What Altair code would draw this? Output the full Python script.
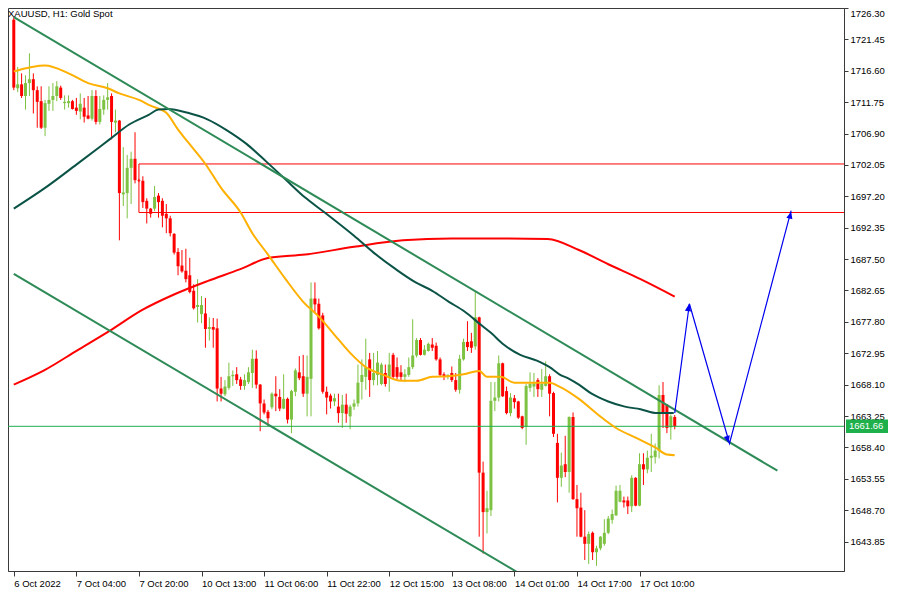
import altair as alt
import pandas as pd

# ---------------- data ----------------
opens = [1724.5, 1713.9, 1714.5, 1712.7, 1714.7, 1715.3, 1713.6, 1711.9, 1707.8, 1711.5,
         1712.1, 1712.7, 1714.0, 1711.6, 1711.6, 1711.9, 1710.9, 1710.3, 1710.9, 1709.7,
         1709.2, 1712.7, 1708.7, 1710.6, 1712.1, 1712.7, 1708.6, 1708.9, 1697.5, 1697.7,
         1701.6, 1703.0, 1699.7, 1699.6, 1696.5, 1695.3, 1695.3, 1697.3, 1696.5, 1694.5,
         1693.8, 1691.4, 1688.6, 1686.5, 1685.7, 1685.0, 1682.6, 1680.1, 1679.0, 1679.1,
         1676.7, 1677.0, 1676.8, 1667.5, 1666.6, 1667.6, 1669.4, 1669.7, 1668.9, 1667.9,
         1668.5, 1669.9, 1672.1, 1668.1, 1665.2, 1663.9, 1664.6, 1666.7, 1666.2, 1664.4,
         1665.9, 1662.7, 1667.0, 1670.0, 1669.4, 1666.7, 1669.0, 1681.4, 1680.6, 1678.8,
         1667.0, 1666.4, 1665.5, 1664.7, 1663.7, 1665.0, 1663.2, 1664.7, 1665.2, 1668.5,
         1669.3, 1672.0, 1668.8, 1669.6, 1668.2, 1669.9, 1669.3, 1672.7, 1670.8, 1670.0,
         1669.3, 1669.6, 1670.8, 1672.6, 1675.0, 1672.7, 1673.3, 1674.3, 1674.1, 1672.0,
         1669.7, 1669.3, 1669.9, 1668.8, 1667.3, 1672.0, 1674.7, 1674.8, 1674.0, 1678.5,
         1654.5, 1648.4, 1648.7, 1665.6, 1666.1, 1671.4, 1667.1, 1663.7, 1666.0, 1665.5,
         1663.2, 1661.6, 1667.6, 1667.8, 1668.8, 1667.3, 1667.9, 1669.4, 1666.8, 1659.1,
         1653.7, 1655.8, 1654.6, 1663.1, 1650.4, 1649.1, 1644.6, 1643.5, 1645.2, 1642.2,
         1642.8, 1643.5, 1645.2, 1647.2, 1647.9, 1650.0, 1650.2, 1650.2, 1649.3, 1653.7,
         1649.4, 1655.8, 1655.0, 1656.8, 1656.9, 1657.9, 1666.5, 1665.0, 1661.5, 1663.1]
highs = [1724.9, 1717.2, 1716.2, 1715.9, 1719.3, 1716.2, 1714.2, 1714.2, 1712.1, 1714.2,
         1714.7, 1715.0, 1714.3, 1712.8, 1712.8, 1712.1, 1712.4, 1713.1, 1712.4, 1712.7,
         1713.6, 1713.6, 1712.7, 1712.8, 1714.7, 1713.1, 1710.6, 1709.0, 1704.8, 1703.6,
         1704.1, 1707.1, 1699.9, 1700.3, 1696.9, 1695.4, 1698.8, 1697.7, 1696.9, 1696.0,
         1694.2, 1691.5, 1689.2, 1688.9, 1689.1, 1687.7, 1683.6, 1684.4, 1681.8, 1681.5,
         1678.5, 1678.4, 1678.3, 1669.3, 1668.8, 1671.5, 1670.3, 1670.8, 1669.3, 1669.7,
         1670.8, 1673.5, 1673.4, 1668.2, 1665.8, 1664.2, 1666.9, 1669.4, 1667.4, 1669.7,
         1666.1, 1667.3, 1670.6, 1672.5, 1672.7, 1672.6, 1683.9, 1683.9, 1681.4, 1679.2,
         1667.8, 1666.7, 1666.7, 1666.7, 1666.5, 1666.7, 1665.0, 1665.8, 1671.2, 1672.0,
         1675.2, 1673.0, 1673.0, 1673.3, 1671.5, 1671.2, 1673.0, 1673.0, 1672.3, 1671.1,
         1670.5, 1672.3, 1678.2, 1675.3, 1675.3, 1674.2, 1674.6, 1675.3, 1674.6, 1672.3,
         1670.0, 1669.7, 1670.9, 1669.9, 1672.7, 1675.2, 1677.9, 1676.1, 1682.4, 1678.6,
         1656.2, 1651.7, 1668.5, 1668.5, 1672.6, 1671.5, 1667.8, 1666.8, 1666.5, 1665.6,
         1663.3, 1668.2, 1670.0, 1669.9, 1669.1, 1670.5, 1671.7, 1669.7, 1667.0, 1660.5,
         1657.6, 1660.2, 1663.2, 1663.8, 1652.6, 1651.4, 1648.7, 1645.4, 1645.4, 1643.2,
         1644.7, 1647.3, 1647.8, 1648.8, 1652.5, 1652.6, 1650.8, 1650.8, 1654.1, 1653.8,
         1657.5, 1657.5, 1657.9, 1660.5, 1659.0, 1668.0, 1668.5, 1665.1, 1663.5, 1663.4]
lows = [1713.6, 1713.3, 1712.4, 1710.6, 1712.7, 1710.0, 1707.8, 1707.6, 1706.5, 1710.4,
        1710.4, 1711.9, 1712.1, 1710.6, 1710.9, 1710.6, 1709.8, 1709.1, 1708.6, 1709.1,
        1708.9, 1708.3, 1708.3, 1709.8, 1710.6, 1706.0, 1707.1, 1690.4, 1695.7, 1693.8,
        1696.0, 1699.2, 1699.4, 1695.4, 1693.0, 1693.9, 1694.9, 1693.9, 1692.4, 1691.5,
        1691.0, 1688.2, 1685.0, 1685.4, 1683.9, 1682.2, 1679.7, 1677.7, 1677.6, 1673.8,
        1674.9, 1673.8, 1665.5, 1665.5, 1666.3, 1667.3, 1667.9, 1668.2, 1667.3, 1667.3,
        1668.2, 1667.6, 1667.5, 1660.9, 1663.5, 1661.7, 1664.3, 1664.0, 1664.0, 1664.3,
        1662.1, 1660.6, 1666.3, 1668.8, 1666.2, 1663.2, 1663.2, 1679.1, 1676.6, 1666.7,
        1663.5, 1664.4, 1664.8, 1662.2, 1661.4, 1662.2, 1661.2, 1664.2, 1664.7, 1665.8,
        1667.3, 1666.2, 1668.0, 1668.0, 1668.0, 1667.8, 1667.0, 1668.9, 1668.9, 1668.8,
        1668.5, 1669.3, 1670.5, 1672.3, 1672.6, 1672.6, 1673.2, 1673.3, 1671.8, 1669.4,
        1668.8, 1668.9, 1668.5, 1667.0, 1666.7, 1671.8, 1673.3, 1673.0, 1673.5, 1644.6,
        1642.0, 1645.1, 1647.8, 1664.0, 1665.5, 1666.2, 1663.5, 1663.2, 1664.4, 1662.8,
        1661.2, 1658.8, 1667.0, 1666.2, 1666.2, 1666.2, 1667.8, 1663.2, 1660.0, 1649.9,
        1652.3, 1653.8, 1651.4, 1650.3, 1644.6, 1644.5, 1641.0, 1640.4, 1641.0, 1640.1,
        1642.5, 1643.2, 1645.0, 1646.6, 1647.8, 1649.9, 1649.1, 1648.1, 1648.4, 1649.3,
        1649.3, 1652.6, 1654.4, 1654.6, 1655.9, 1656.7, 1661.4, 1660.6, 1659.6, 1661.2]
closes = [1714.0, 1714.5, 1712.7, 1714.7, 1715.3, 1713.6, 1711.8, 1707.8, 1711.6, 1712.1,
          1712.7, 1714.2, 1712.4, 1711.8, 1711.9, 1710.7, 1710.4, 1711.5, 1709.5, 1709.2,
          1712.7, 1708.7, 1710.7, 1712.1, 1712.5, 1708.7, 1708.9, 1697.7, 1697.8, 1701.6,
          1703.0, 1699.7, 1699.6, 1696.3, 1695.3, 1694.5, 1697.1, 1696.3, 1694.2, 1693.8,
          1691.5, 1688.5, 1686.4, 1685.6, 1684.4, 1682.4, 1679.9, 1680.4, 1680.4, 1676.7,
          1677.0, 1676.6, 1667.5, 1666.7, 1667.8, 1669.4, 1669.6, 1668.8, 1667.9, 1668.8,
          1670.0, 1672.1, 1668.1, 1665.2, 1663.8, 1662.9, 1666.7, 1666.3, 1664.4, 1665.9,
          1662.7, 1667.1, 1670.3, 1669.1, 1666.7, 1669.3, 1681.4, 1680.5, 1676.8, 1667.0,
          1666.1, 1665.5, 1666.0, 1663.7, 1665.0, 1663.6, 1664.7, 1665.2, 1668.4, 1669.6,
          1670.8, 1668.8, 1669.9, 1671.5, 1671.2, 1668.2, 1671.2, 1669.3, 1669.3, 1669.3,
          1669.7, 1670.8, 1672.6, 1675.0, 1672.7, 1673.5, 1674.4, 1673.8, 1672.0, 1669.6,
          1669.3, 1669.6, 1668.8, 1667.3, 1672.1, 1674.7, 1673.9, 1673.8, 1678.5, 1654.5,
          1648.4, 1649.0, 1665.6, 1666.1, 1671.4, 1666.3, 1663.7, 1666.1, 1665.4, 1663.0,
          1661.4, 1667.9, 1668.2, 1668.3, 1667.4, 1668.2, 1669.4, 1666.7, 1660.5, 1653.7,
          1655.6, 1654.6, 1663.1, 1650.4, 1649.0, 1644.6, 1643.5, 1645.0, 1642.2, 1642.8,
          1644.6, 1645.2, 1647.4, 1648.1, 1651.7, 1651.7, 1649.9, 1649.3, 1653.7, 1649.4,
          1655.8, 1655.0, 1656.8, 1657.1, 1657.9, 1666.5, 1663.7, 1661.4, 1663.2, 1661.66]

# moving averages (bar index, price)
ma_fast_idx = [0, 8, 14, 19, 24, 27, 32, 35, 39, 42, 44.5, 49, 53, 58, 61, 65, 69.5, 74, 78, 82,
               86, 90, 94.5, 99, 103, 107, 111, 115, 119, 121, 124.5, 128, 137, 139.5, 144.5,
               149.5, 154, 159, 164, 167, 169]
ma_fast_val = [1716.5, 1717.4, 1716.2, 1714.7, 1713.9, 1713.1, 1712.1, 1711.2, 1710.1, 1707.5,
               1705.6, 1702.2, 1698.5, 1694.7, 1691.5, 1688.2, 1684.4, 1680.9, 1678.6, 1675.8,
               1673.0, 1670.8, 1669.6, 1668.7, 1668.7, 1669.3, 1669.4, 1669.7, 1670.2, 1669.3,
               1669.3, 1668.4, 1668.4, 1667.8, 1665.9, 1663.4, 1661.4, 1659.9, 1658.4, 1657.3,
               1657.2]
ma_mid_idx = [0, 8, 16, 24.5, 29.5, 34.5, 37, 39.5, 44.5, 49.5, 54.5, 59.5, 64.5, 69.5, 74.5,
              79.5, 87, 92, 97.75, 102.75, 107, 111.25, 115.25, 119.5, 122, 125.25, 129.5,
              133.75, 137, 139.5, 142, 144.5, 147.75, 152, 156.25, 160.25, 164.5, 168.75]
ma_mid_val = [1695.3, 1698.5, 1702.1, 1706.0, 1708.3, 1709.8, 1710.6, 1710.7, 1710.1, 1709.1,
              1707.4, 1705.3, 1702.6, 1699.8, 1697.0, 1694.7, 1691.1, 1688.5, 1685.9, 1683.9,
              1682.6, 1680.9, 1679.4, 1677.3, 1676.1, 1674.3, 1672.7, 1671.8, 1670.8, 1669.7,
              1669.0, 1668.1, 1666.7, 1665.5, 1664.7, 1664.3, 1663.7, 1663.7]
ma_slow_idx = [0, 7.75, 16.25, 24.5, 32.75, 41.25, 49.5, 57.75, 65.25, 74.5, 87, 99.5, 112,
               124.5, 136.5, 144.5, 152, 160.25, 169]
ma_slow_val = [1668.1, 1670.3, 1673.4, 1676.4, 1679.6, 1682.1, 1684.1, 1685.9, 1687.7, 1688.2,
               1689.4, 1690.4, 1690.7, 1690.7, 1690.6, 1688.9, 1686.7, 1684.4, 1681.7]

# descending channel
upper_idx = [0, 195.25]
upper_val = [1724.9, 1654.8]
lower_idx = [0, 128.5]
lower_val = [1685.2, 1639.2]

# resistance zone
zone_start = 32
zone_top = 1702.2
zone_bottom = 1694.7

last_price = 1661.66

# projected path (blue arrows)
path_idx = [169, 172.75, 183, 198.75]
path_val = [1663.7, 1680.6, 1659.0, 1695.0]
head_idx = [172.5, 182.5, 198.5]
head_val = [1679.9, 1659.7, 1694.2]
head_angle = [8, 164, 15]

price_ticks = [1643.85, 1648.70, 1653.55, 1658.40, 1663.25, 1668.10, 1672.95, 1677.80,
               1682.65, 1687.50, 1692.35, 1697.20, 1702.05, 1706.90, 1711.75, 1716.60,
               1721.45, 1726.30]
time_idx = [0, 16, 32, 48, 64, 80, 96, 112, 128, 144, 160]
time_labels = ["6 Oct 2022", "7 Oct 04:00", "7 Oct 20:00", "10 Oct 13:00", "11 Oct 06:00",
               "11 Oct 22:00", "12 Oct 15:00", "13 Oct 08:00", "14 Oct 01:00",
               "14 Oct 17:00", "17 Oct 10:00"]
title_text = "XAUUSD, H1:  Gold Spot"

# ---------------- styling ----------------
W, H = 836, 563
FONT = "Liberation Sans"
FS = 9.5
C_UP, C_DN = "#7DC242", "#FF0000"
C_FAST, C_MID, C_SLOW = "#FFB000", "#0B5346", "#FF0000"
C_CHAN, C_LAST, C_BLUE = "#2E8B57", "#1DB04B", "#0000F0"
C_AX = "#3a3a3a"
X_DOMAIN = [-0.2, 211]
Y_DOMAIN = [1639.3, 1726.30]

xs = alt.Scale(domain=X_DOMAIN, nice=False, zero=False)
ys = alt.Scale(domain=Y_DOMAIN, nice=False, zero=False)

candles = pd.DataFrame({"i": list(range(len(opens))), "o": opens, "h": highs,
                        "l": lows, "c": closes})
candles["d"] = ["up" if c >= o else "down" for o, c in zip(opens, closes)]

label_arr = "[" + ",".join("'" + s + "'" for s in time_labels) + "]"

X_AX = alt.Axis(values=time_idx, labelExpr=f"{label_arr}[round(datum.value/16)]",
                labelAlign="left", labelBaseline="top", labelPadding=2, tickSize=5,
                grid=False, title=None, labelFont=FONT, labelFontSize=FS, labelColor="#000",
                domainColor=C_AX, tickColor=C_AX, labelFlush=False, labelOverlap=False,
                labelBound=False)
Y_AX = alt.Axis(orient="right", values=price_ticks, format=".2f", tickSize=4, labelPadding=2,
                grid=False, title=None, labelFont=FONT, labelFontSize=FS, labelColor="#000",
                domainColor=C_AX, tickColor=C_AX, labelFlush=True, labelOverlap=False)


def X(f):
    return alt.X(f, scale=xs, axis=X_AX)


def Y(f):
    return alt.Y(f, scale=ys, axis=Y_AX)


color = alt.Color("d:N", scale=alt.Scale(domain=["up", "down"], range=[C_UP, C_DN]),
                  legend=None)

wicks = alt.Chart(candles).mark_rule(strokeWidth=1).encode(
    x=X("i:Q"), y=Y("l:Q"), y2="h:Q", color=color)
bodies = alt.Chart(candles).mark_bar(width=3).encode(
    x=X("i:Q"), y=Y("o:Q"), y2="c:Q", color=color)


def line_layer(idx, val, col, sw=2, interp="monotone"):
    df = pd.DataFrame({"i": idx, "v": val})
    return alt.Chart(df).mark_line(color=col, strokeWidth=sw, interpolate=interp,
                                   clip=True).encode(x=X("i:Q"), y=Y("v:Q"))


ma_slow = line_layer(ma_slow_idx, ma_slow_val, C_SLOW)
ma_mid = line_layer(ma_mid_idx, ma_mid_val, C_MID)
ma_fast = line_layer(ma_fast_idx, ma_fast_val, C_FAST)
up_line = line_layer(upper_idx, upper_val, C_CHAN, 2, "linear")
lo_line = line_layer(lower_idx, lower_val, C_CHAN, 2, "linear")

zone = alt.Chart(pd.DataFrame({"a": [zone_start], "b": [X_DOMAIN[1] + 5],
                               "t": [zone_top], "bt": [zone_bottom]})).mark_rect(
    fillOpacity=0, stroke="#FF0000", strokeWidth=1, clip=True).encode(
    x=X("a:Q"), x2="b:Q", y=Y("t:Q"), y2="bt:Q")

last_line = alt.Chart(pd.DataFrame({"p": [last_price]})).mark_rule(
    color=C_LAST, strokeWidth=1).encode(y=Y("p:Q"))

path = alt.Chart(pd.DataFrame({"i": path_idx, "v": path_val, "k": range(len(path_idx))})
                 ).mark_line(color=C_BLUE, strokeWidth=1.2).encode(
    x=X("i:Q"), y=Y("v:Q"), order="k:Q")
heads = alt.Chart(pd.DataFrame({"i": head_idx, "v": head_val, "a": head_angle})
                  ).mark_point(shape="M0,-1L0.75,0.7L-0.75,0.7Z", filled=True, size=70,
                               color=C_BLUE, opacity=1).encode(
    x=X("i:Q"), y=Y("v:Q"), angle=alt.Angle("a:Q", scale=None))

box_half = 1.05
price_box = alt.Chart(pd.DataFrame({"t": [last_price + box_half],
                                    "b": [last_price - box_half]})).mark_rect(
    color=C_LAST).encode(x=alt.value(W + 2), x2=alt.value(W + 44), y=Y("t:Q"), y2="b:Q")
price_txt = alt.Chart(pd.DataFrame({"p": [last_price]})).mark_text(
    align="left", baseline="middle", color="white", font=FONT, fontSize=FS).encode(
    x=alt.value(W + 5), y=Y("p:Q"), text=alt.Text("p:Q", format=".2f"))

title = alt.Chart(pd.DataFrame({"t": [title_text]})).mark_text(
    align="left", baseline="top", color="#000", font=FONT, fontSize=FS).encode(
    x=alt.value(0), y=alt.value(1), text="t:N")

chart = alt.layer(
    wicks, bodies, zone, last_line, ma_slow, ma_fast, ma_mid, up_line, lo_line,
    path, heads, price_box, price_txt, title
).properties(
    width=W, height=H, autosize=alt.AutoSizeParams(type="none"),
    padding={"left": 0, "top": 0, "right": 46, "bottom": 21},
    background="white"
).configure_view(stroke=C_AX, strokeWidth=1)

chart.save("out.html", embed_options={"renderer": "svg", "actions": False})
